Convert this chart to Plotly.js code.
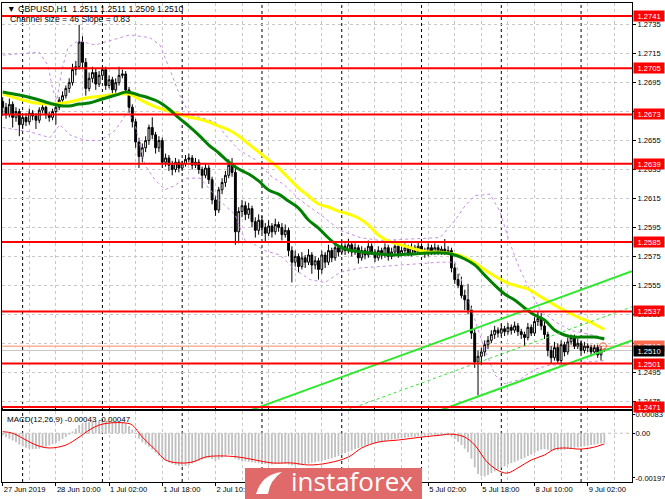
<!DOCTYPE html>
<html><head><meta charset="utf-8">
<script src="https://cdn.plot.ly/plotly-3.0.1.min.js"></script>
<style>html,body{margin:0;padding:0;background:#fff}#chart{width:665px;height:499px}</style>
</head><body><div id="chart"></div>
<script>
// ---- candles (GBPUSD H1, bar 0 = 27 Jun 2019 18:00) ----
const openP=[1.2682,1.2678,1.2673,1.2680,1.2671,1.2675,1.2666,1.2671,1.2668,1.2674,
1.2672,1.2669,1.2676,1.2678,1.2673,1.2671,1.2675,1.2678,1.2683,1.2686,
1.2691,1.2695,1.2704,1.2706,1.2723,1.2709,1.2691,1.2698,1.2702,1.2694,
1.2700,1.2704,1.2693,1.2697,1.2690,1.2695,1.2700,1.2701,1.2690,1.2678,
1.2668,1.2654,1.2644,1.2650,1.2655,1.2664,1.2659,1.2650,1.2655,1.2640,
1.2643,1.2638,1.2635,1.2640,1.2636,1.2639,1.2642,1.2643,1.2638,1.2640,
1.2635,1.2631,1.2636,1.2628,1.2614,1.2607,1.2621,1.2626,1.2631,1.2638,
1.2633,1.2592,1.2606,1.2610,1.2604,1.2608,1.2599,1.2593,1.2600,1.2595,
1.2591,1.2596,1.2592,1.2597,1.2595,1.2590,1.2593,1.2579,1.2571,1.2575,
1.2568,1.2574,1.2571,1.2576,1.2569,1.2572,1.2566,1.2576,1.2571,1.2579,
1.2574,1.2581,1.2578,1.2582,1.2579,1.2583,1.2578,1.2581,1.2574,1.2579,
1.2576,1.2582,1.2578,1.2574,1.2579,1.2576,1.2581,1.2575,1.2578,1.2582,
1.2577,1.2579,1.2581,1.2577,1.2581,1.2578,1.2582,1.2579,1.2577,1.2581,
1.2578,1.2581,1.2578,1.2580,1.2578,1.2579,1.2567,1.2559,1.2555,1.2548,
1.2545,1.2538,1.2522,1.2502,1.2506,1.2509,1.2514,1.2517,1.2521,1.2524,
1.2522,1.2525,1.2523,1.2526,1.2524,1.2527,1.2523,1.2521,1.2519,1.2526,
1.2522,1.2530,1.2532,1.2527,1.2521,1.2510,1.2505,1.2512,1.2503,1.2514,
1.2509,1.2516,1.2519,1.2513,1.2515,1.2510,1.2513,1.2512,1.2509,1.2512,
1.2507,1.2511];
const highP=[1.2685,1.2681,1.2684,1.2682,1.2678,1.2677,1.2673,1.2674,1.2677,1.2676,
1.2674,1.2678,1.2681,1.2679,1.2675,1.2677,1.2680,1.2685,1.2689,1.2693,
1.2698,1.2708,1.2710,1.2735,1.2727,1.2712,1.2702,1.2706,1.2705,1.2703,
1.2706,1.2706,1.2700,1.2699,1.2698,1.2706,1.2704,1.2703,1.2692,1.2680,
1.2670,1.2657,1.2653,1.2658,1.2666,1.2671,1.2661,1.2658,1.2657,1.2646,
1.2645,1.2641,1.2643,1.2642,1.2641,1.2645,1.2646,1.2645,1.2643,1.2642,
1.2637,1.2639,1.2638,1.2630,1.2617,1.2623,1.2629,1.2634,1.2642,1.2643,
1.2636,1.2609,1.2614,1.2613,1.2612,1.2610,1.2602,1.2604,1.2603,1.2598,
1.2600,1.2598,1.2601,1.2599,1.2598,1.2597,1.2595,1.2582,1.2579,1.2577,
1.2578,1.2576,1.2580,1.2578,1.2575,1.2574,1.2579,1.2578,1.2583,1.2581,
1.2585,1.2583,1.2586,1.2584,1.2587,1.2585,1.2584,1.2583,1.2582,1.2581,
1.2586,1.2584,1.2580,1.2582,1.2581,1.2584,1.2583,1.2581,1.2586,1.2584,
1.2582,1.2584,1.2583,1.2584,1.2583,1.2585,1.2584,1.2581,1.2584,1.2583,
1.2584,1.2583,1.2582,1.2587,1.2582,1.2581,1.2570,1.2563,1.2561,1.2552,
1.2556,1.2541,1.2525,1.2510,1.2512,1.2517,1.2520,1.2524,1.2527,1.2526,
1.2528,1.2527,1.2529,1.2528,1.2530,1.2529,1.2525,1.2523,1.2529,1.2528,
1.2533,1.2537,1.2536,1.2530,1.2523,1.2513,1.2516,1.2515,1.2517,1.2516,
1.2519,1.2521,1.2521,1.2518,1.2517,1.2516,1.2515,1.2514,1.2514,1.2514,
1.2513,1.2511];
const lowP=[1.2672,1.2670,1.2671,1.2664,1.2668,1.2658,1.2663,1.2665,1.2666,1.2669,
1.2663,1.2667,1.2674,1.2670,1.2668,1.2669,1.2666,1.2676,1.2680,1.2684,
1.2688,1.2693,1.2700,1.2704,1.2705,1.2686,1.2689,1.2695,1.2690,1.2692,
1.2697,1.2690,1.2691,1.2687,1.2688,1.2693,1.2698,1.2687,1.2674,1.2664,
1.2650,1.2636,1.2640,1.2647,1.2652,1.2656,1.2646,1.2647,1.2636,1.2637,
1.2634,1.2631,1.2633,1.2633,1.2634,1.2637,1.2640,1.2635,1.2636,1.2632,
1.2622,1.2629,1.2625,1.2611,1.2603,1.2605,1.2618,1.2623,1.2629,1.2630,
1.2583,1.2584,1.2602,1.2600,1.2601,1.2595,1.2588,1.2590,1.2591,1.2585,
1.2589,1.2588,1.2590,1.2592,1.2586,1.2588,1.2575,1.2557,1.2568,1.2564,
1.2566,1.2567,1.2569,1.2563,1.2566,1.2559,1.2563,1.2567,1.2569,1.2571,
1.2572,1.2575,1.2576,1.2576,1.2577,1.2575,1.2576,1.2570,1.2572,1.2573,
1.2574,1.2576,1.2571,1.2572,1.2573,1.2574,1.2572,1.2573,1.2576,1.2574,
1.2575,1.2577,1.2575,1.2575,1.2576,1.2576,1.2577,1.2574,1.2575,1.2576,
1.2576,1.2576,1.2576,1.2576,1.2576,1.2564,1.2556,1.2553,1.2546,1.2538,
1.2535,1.2518,1.2498,1.2479,1.2500,1.2506,1.2511,1.2515,1.2518,1.2519,
1.2520,1.2520,1.2521,1.2521,1.2522,1.2520,1.2518,1.2513,1.2517,1.2520,
1.2520,1.2527,1.2524,1.2518,1.2506,1.2501,1.2503,1.2501,1.2501,1.2506,
1.2507,1.2514,1.2511,1.2511,1.2508,1.2508,1.2509,1.2506,1.2507,1.2505,
1.2503,1.2509];
const closeP=[1.2678,1.2673,1.2680,1.2671,1.2675,1.2666,1.2671,1.2668,1.2674,1.2672,
1.2669,1.2676,1.2678,1.2673,1.2671,1.2675,1.2678,1.2683,1.2686,1.2691,
1.2695,1.2704,1.2706,1.2723,1.2709,1.2691,1.2698,1.2702,1.2694,1.2700,
1.2704,1.2693,1.2697,1.2690,1.2695,1.2700,1.2701,1.2690,1.2678,1.2668,
1.2654,1.2644,1.2650,1.2655,1.2664,1.2659,1.2650,1.2655,1.2640,1.2643,
1.2638,1.2635,1.2640,1.2636,1.2639,1.2642,1.2643,1.2638,1.2640,1.2635,
1.2631,1.2636,1.2628,1.2614,1.2607,1.2621,1.2626,1.2631,1.2638,1.2633,
1.2592,1.2606,1.2610,1.2604,1.2608,1.2599,1.2593,1.2600,1.2595,1.2591,
1.2596,1.2592,1.2597,1.2595,1.2590,1.2593,1.2579,1.2571,1.2575,1.2568,
1.2574,1.2571,1.2576,1.2569,1.2572,1.2566,1.2576,1.2571,1.2579,1.2574,
1.2581,1.2578,1.2582,1.2579,1.2583,1.2578,1.2581,1.2574,1.2579,1.2576,
1.2582,1.2578,1.2574,1.2579,1.2576,1.2581,1.2575,1.2578,1.2582,1.2577,
1.2579,1.2581,1.2577,1.2581,1.2578,1.2582,1.2579,1.2577,1.2581,1.2578,
1.2581,1.2578,1.2580,1.2578,1.2579,1.2567,1.2559,1.2555,1.2548,1.2545,
1.2538,1.2522,1.2502,1.2506,1.2509,1.2514,1.2517,1.2521,1.2524,1.2522,
1.2525,1.2523,1.2526,1.2524,1.2527,1.2523,1.2521,1.2519,1.2526,1.2522,
1.2530,1.2532,1.2527,1.2521,1.2510,1.2505,1.2512,1.2503,1.2514,1.2509,
1.2516,1.2519,1.2513,1.2515,1.2510,1.2513,1.2512,1.2509,1.2512,1.2507,
1.2511,1.2510];

// ---- moving averages ----
const greenIdx=[0,5,10,15,18,20,23,26,29,32,35,37,39,41,44,47,50,53,56,59,62,65,68,71,74,77,80,83,86,89,92,95,98,101,104,108,113,118,123,128,133,136,139,142,145,148,151,154,157,160,163,166,169,172,175,178,181];
const greenVal=[1.26885,1.26864,1.26837,1.26802,1.26789,1.26789,1.26802,1.26809,1.26830,1.26851,1.26871,1.26885,1.26878,1.26864,1.26844,1.26816,1.26768,1.26706,1.26650,1.26588,1.26519,1.26464,1.26402,1.26353,1.26319,1.26271,1.26208,1.26180,1.26132,1.26084,1.26001,1.25946,1.25877,1.25822,1.25794,1.25780,1.25767,1.25760,1.25767,1.25773,1.25773,1.25760,1.25732,1.25691,1.25621,1.25552,1.25490,1.25449,1.25394,1.25345,1.25311,1.25242,1.25207,1.25193,1.25193,1.25193,1.25180];
const yellowIdx=[0,5,10,15,20,25,30,35,38,41,44,47,50,53,56,59,62,65,68,71,74,77,80,83,86,89,92,95,98,101,104,107,110,113,116,119,122,125,128,131,134,137,140,143,146,149,152,155,158,161,164,167,170,173,176,179,181];
const yellowVal=[1.26871,1.26837,1.26809,1.26802,1.26816,1.26844,1.26858,1.26871,1.26871,1.26837,1.26802,1.26775,1.26754,1.26733,1.26713,1.26699,1.26678,1.26650,1.26623,1.26581,1.26526,1.26471,1.26416,1.26360,1.26291,1.26222,1.26167,1.26112,1.26091,1.26063,1.26043,1.26015,1.25967,1.25898,1.25856,1.25835,1.25815,1.25794,1.25780,1.25780,1.25773,1.25760,1.25732,1.25691,1.25642,1.25601,1.25566,1.25545,1.25525,1.25483,1.25442,1.25401,1.25366,1.25331,1.25304,1.25269,1.25245];

// ---- bands (dashed violet) ----
const upperIdx=[0,11,13.6,15.1,16.3,17.8,19.6,22.7,27.8,32.3,38.3,44.3,47.3,50.3,53.3,56.3,59.4,63.9,68.4,71.4,75.9,80.4,84.9,89.4,95.5,101.5,107.5,113.5,131.6,136.1,139.1,142.1,146.6,149.6,152.6,155.6,158.6,161.6,166.2,170.7,176.7,181];
const upperVal=[1.2714,1.2716,1.2707,1.2690,1.2683,1.2704,1.2719,1.2724,1.2721,1.2724,1.2728,1.2726,1.2721,1.2704,1.2686,1.2673,1.2671,1.2668,1.2655,1.2648,1.2642,1.2631,1.2624,1.2614,1.2604,1.2593,1.2588,1.2586,1.2588,1.2600,1.2610,1.2617,1.2618,1.2606,1.2584,1.2566,1.2552,1.2538,1.2530,1.2524,1.2521,1.2519];
const lowerIdx=[0,8.2,14.2,17.2,20.2,24.8,29.3,33.8,37.7,39.8,42.8,45.8,48.8,51.8,54.8,59.4,63.9,66.9,69.9,72.9,75.9,78.9,83.4,87.9,92.4,97.0,101.5,107.5,119.5,131.6,136.1,139.1,142.1,145.1,148.1,151.1,155.6,160.1,164.6,169.2,175.2,181];
const lowerVal=[1.2664,1.2661,1.2657,1.2666,1.2659,1.2655,1.2655,1.2662,1.2675,1.2666,1.2638,1.2628,1.2621,1.2624,1.2629,1.2629,1.2617,1.2610,1.2604,1.2586,1.2583,1.2579,1.2576,1.2566,1.2559,1.2557,1.2564,1.2567,1.2569,1.2571,1.2571,1.2552,1.2531,1.2510,1.2493,1.2487,1.2490,1.2497,1.2500,1.2500,1.2502,1.2503];

// ---- channel ----
const chanUpIdx=[72,189.3], chanUpVal=[1.24666,1.25647];
const chanMidIdx=[100.6,189.3], chanMidVal=[1.24664,1.25402];
const chanLoIdx=[129.2,189.3], chanLoVal=[1.24667,1.25169];

// ---- levels ----
const levels=[1.2741,1.2705,1.2673,1.2639,1.2585,1.2537,1.2501,1.2471];
const askLevel=1.2513, bidLevel=1.2510;
const priceTicks=[1.2475,1.2495,1.2515,1.2535,1.2555,1.2575,1.2595,1.2615,1.2635,1.2655,1.2675,1.2695,1.2715,1.2735];

// ---- MACD ----
const macdHist=[-0.00010,-0.00018,-0.00024,-0.00032,-0.00040,-0.00050,-0.00058,-0.00064,-0.00068,-0.00070,
-0.00070,-0.00068,-0.00064,-0.00060,-0.00054,-0.00048,-0.00042,-0.00034,-0.00026,-0.00016,
-0.00006,0.00008,0.00020,0.00036,0.00044,0.00048,0.00050,0.00052,0.00053,0.00054,
0.00054,0.00053,0.00054,0.00052,0.00051,0.00050,0.00050,0.00044,0.00032,0.00016,
-0.00004,-0.00024,-0.00040,-0.00050,-0.00060,-0.00072,-0.00085,-0.00098,-0.00110,-0.00120,
-0.00128,-0.00134,-0.00140,-0.00144,-0.00146,-0.00144,-0.00140,-0.00134,-0.00128,-0.00122,
-0.00116,-0.00112,-0.00110,-0.00114,-0.00120,-0.00116,-0.00108,-0.00100,-0.00094,-0.00096,
-0.00112,-0.00118,-0.00122,-0.00124,-0.00126,-0.00128,-0.00130,-0.00132,-0.00134,-0.00136,
-0.00138,-0.00138,-0.00136,-0.00135,-0.00134,-0.00134,-0.00138,-0.00142,-0.00142,-0.00140,
-0.00138,-0.00136,-0.00134,-0.00130,-0.00128,-0.00125,-0.00122,-0.00118,-0.00114,-0.00110,
-0.00105,-0.00100,-0.00094,-0.00088,-0.00082,-0.00076,-0.00070,-0.00065,-0.00060,-0.00055,
-0.00050,-0.00046,-0.00042,-0.00039,-0.00036,-0.00033,-0.00030,-0.00028,-0.00026,-0.00024,
-0.00022,-0.00020,-0.00018,-0.00017,-0.00016,-0.00014,-0.00012,-0.00011,-0.00010,-0.00009,
-0.00008,-0.00008,-0.00007,-0.00007,-0.00009,-0.00016,-0.00026,-0.00038,-0.00052,-0.00068,
-0.00084,-0.00112,-0.00150,-0.00180,-0.00190,-0.00190,-0.00184,-0.00176,-0.00168,-0.00160,
-0.00152,-0.00146,-0.00138,-0.00132,-0.00126,-0.00120,-0.00114,-0.00108,-0.00100,-0.00094,
-0.00086,-0.00078,-0.00072,-0.00070,-0.00072,-0.00075,-0.00076,-0.00076,-0.00075,-0.00073,
-0.00070,-0.00067,-0.00064,-0.00062,-0.00060,-0.00057,-0.00055,-0.00052,-0.00050,-0.00048,
-0.00045,-0.00043];
const sigIdx=[0,3,7,10,14,19,23,26,29,32,37,39,42,46,49,53,57,61,65,71,76,81,87,92,98,104,108,113,119,126,132,135,139,142,146,150,152,155,159,163,166,169,174,178,181];
const sigVal=[0.00007,0.0,-0.00030,-0.00052,-0.00065,-0.00052,-0.00017,0.00014,0.00036,0.00045,0.00045,0.00036,-0.00017,-0.00074,-0.00118,-0.00131,-0.00127,-0.00105,-0.00100,-0.00105,-0.00118,-0.00131,-0.00131,-0.00140,-0.00131,-0.00105,-0.00065,-0.00039,-0.00030,-0.00017,-0.00008,-0.00004,-0.00017,-0.00052,-0.00131,-0.00171,-0.00175,-0.00153,-0.00118,-0.00096,-0.00070,-0.00065,-0.00070,-0.00061,-0.00047];
const macdTicks=[0.00083,0,-0.00197];
const macdTickText=['0.00083','0.00','-0.00197'];

// ---- time axis (labels under the watermark are hidden in the source) ----
const timeTickBars=[0,16,32,48,64,80,96,112,128,144,160,176];
const timeTickText=['27 Jun 2019','28 Jun 10:00','1 Jul 02:00','1 Jul 18:00','2 Jul 10:00','','','','5 Jul 02:00','5 Jul 18:00','8 Jul 10:00','9 Jul 02:00'];
const gridBars=[0,8,16,24,32,40,48,56,64,72,80,88,96,104,112,120,128,136,144,152,160,168,176,184];
const daySepBars=[6,30,54,78,102,126,150,174];

const FONT='Liberation Sans, Arial, sans-serif';
const FS=8.6;    // annotation text
const TFS=7.6;   // axis tick text
const bars=closeP.map((_,i)=>i);

const traces=[
 {type:'scatter',mode:'lines',x:upperIdx,y:upperVal,line:{color:'#c98ee6',width:1,dash:'3px,3px'},hoverinfo:'skip'},
 {type:'scatter',mode:'lines',x:lowerIdx,y:lowerVal,line:{color:'#c98ee6',width:1,dash:'3px,3px'},hoverinfo:'skip'},
 {type:'candlestick',x:bars,open:openP,high:highP,low:lowP,close:closeP,
  increasing:{line:{color:'#000',width:1},fillcolor:'#fff'},
  decreasing:{line:{color:'#000',width:1},fillcolor:'#000'},whiskerwidth:0,hoverinfo:'skip'},
 {type:'scatter',mode:'lines',x:yellowIdx,y:yellowVal,line:{color:'#ffff00',width:3,shape:'spline'},hoverinfo:'skip'},
 {type:'scatter',mode:'lines',x:greenIdx,y:greenVal,line:{color:'#008000',width:3,shape:'spline'},hoverinfo:'skip'},
 {type:'scatter',mode:'lines',x:chanUpIdx,y:chanUpVal,line:{color:'#2ee82e',width:2},hoverinfo:'skip'},
 {type:'scatter',mode:'lines',x:chanLoIdx,y:chanLoVal,line:{color:'#2ee82e',width:2},hoverinfo:'skip'},
 {type:'scatter',mode:'lines',x:chanMidIdx,y:chanMidVal,line:{color:'#2ee82e',width:1,dash:'3px,3px'},hoverinfo:'skip'},
 {type:'scatter',mode:'markers',x:[180.6],y:[askLevel],marker:{symbol:'circle-open',size:7,color:'#ff6a4d',line:{width:1}},hoverinfo:'skip'},
 {type:'bar',x:bars,y:macdHist,yaxis:'y2',width:0.55,marker:{color:'#c0c0c0',line:{width:0}},hoverinfo:'skip'},
 {type:'scatter',mode:'lines',x:sigIdx,y:sigVal,yaxis:'y2',line:{color:'#ff0000',width:1,shape:'spline'},hoverinfo:'skip'}
];

const shapes=[];
daySepBars.forEach(b=>shapes.push({type:'line',xref:'x',x0:b,x1:b,yref:'paper',y0:0,y1:1,line:{color:'#000',width:1,dash:'3px,3px'},layer:'below'}));
shapes.push({type:'line',xref:'paper',x0:0,x1:1,yref:'y2',y0:0,y1:0,line:{color:'#c0c0c0',width:1,dash:'3px,3px'},layer:'below'});
shapes.push({type:'line',xref:'paper',x0:0,x1:1,yref:'y',y0:bidLevel,y1:bidLevel,line:{color:'#c8c8c8',width:1},layer:'below'});
shapes.push({type:'line',xref:'paper',x0:0,x1:1,yref:'y',y0:askLevel,y1:askLevel,line:{color:'#ff8866',width:1},layer:'below'});
levels.forEach(l=>shapes.push({type:'line',xref:'paper',x0:0,x1:1,yref:'y',y0:l,y1:l,line:{color:'#ff0000',width:2},layer:'above'}));
// watermark box and logo mark
shapes.push({type:'rect',xref:'paper',yref:'paper',x0:0.3857,x1:0.6667,y0:-0.04,y1:0.0292,fillcolor:'#e06a6a',line:{width:0},layer:'above'});
shapes.push({type:'path',xref:'paper',yref:'paper',layer:'above',fillcolor:'#ffffff',line:{width:0},
  path:'M 0.4032,-0.0251 Q 0.4127,0.0167 0.4444,0.0209 Q 0.4254,0.0042 0.4222,-0.0251 Z'});

const annotations=[];
const lab=(y,text,bg)=>({xref:'paper',x:1,xanchor:'left',xshift:1,yref:'y',y:y,yanchor:'middle',text:text,showarrow:false,bgcolor:bg,font:{color:'#fff',size:TFS,family:FONT},width:30,height:10,borderpad:0});
annotations.push(lab(askLevel,askLevel.toFixed(4),'#ff6a4d'));
levels.forEach(l=>annotations.push(lab(l,l.toFixed(4),'#ff0000')));
annotations.push(lab(bidLevel,bidLevel.toFixed(4),'#000000'));
annotations.push({xref:'paper',yref:'paper',x:0.005,y:0.9875,xanchor:'left',yanchor:'middle',showarrow:false,
  text:'▼ GBPUSD,H1  1.2511 1.2511 1.2509 1.2510',font:{size:FS,color:'#000',family:FONT}});
annotations.push({xref:'paper',yref:'paper',x:0.009,y:0.966,xanchor:'left',yanchor:'middle',showarrow:false,
  text:'Channel size = 46 Slope = 0.83',font:{size:FS,color:'#000',family:FONT}});
annotations.push({xref:'paper',yref:'paper',x:0.005,y:0.1315,xanchor:'left',yanchor:'middle',showarrow:false,
  text:'MACD(12,26,9) -0.00043 -0.00047',font:{size:8,color:'#000',family:FONT}});
annotations.push({xref:'paper',yref:'paper',x:0.455,y:0.003,xanchor:'left',yanchor:'middle',showarrow:false,
  text:'instaforex',font:{size:26,color:'#ffffff',family:'Open Sans, sans-serif'}});

const layout={
 width:665,height:499,margin:{l:2,r:33,t:3,b:17},
 paper_bgcolor:'#fff',plot_bgcolor:'#fff',showlegend:false,hovermode:false,boxgap:0.2,
 font:{family:FONT,size:TFS,color:'#000'},
 xaxis:{range:[-0.21,189.32],anchor:'y2',tickmode:'array',tickvals:timeTickBars,ticktext:timeTickText,
   ticks:'outside',ticklen:3,tickcolor:'#000',tickfont:{size:TFS},ticklabelposition:'outside right',ticklabeloverflow:'allow',
   showgrid:false,zeroline:false,showline:true,linecolor:'#000',linewidth:1,mirror:'all',
   rangeslider:{visible:false},fixedrange:true,
   minor:{tickvals:gridBars,showgrid:true,gridcolor:'#c8c8c8',griddash:'3px,3px',ticks:''}},
 yaxis:{domain:[0.1524,1],range:[1.24696,1.27500],side:'right',tickmode:'array',tickvals:priceTicks,
   ticktext:priceTicks.map(v=>v.toFixed(4)),ticks:'outside',ticklen:3,tickcolor:'#000',tickfont:{size:TFS},
   showgrid:true,gridcolor:'#c8c8c8',griddash:'3px,3px',zeroline:false,showline:true,linecolor:'#000',mirror:true,fixedrange:true},
 yaxis2:{domain:[0,0.1482],range:[-0.00215,0.00098],side:'right',tickmode:'array',tickvals:macdTicks,ticktext:macdTickText,
   ticks:'outside',ticklen:2,tickcolor:'#000',tickfont:{size:TFS},ticklabelstandoff:-1,showgrid:false,zeroline:false,showline:true,linecolor:'#000',mirror:true,fixedrange:true},
 shapes:shapes,annotations:annotations
};
Plotly.newPlot('chart',traces,layout,{displayModeBar:false,staticPlot:true});
</script></body></html>
